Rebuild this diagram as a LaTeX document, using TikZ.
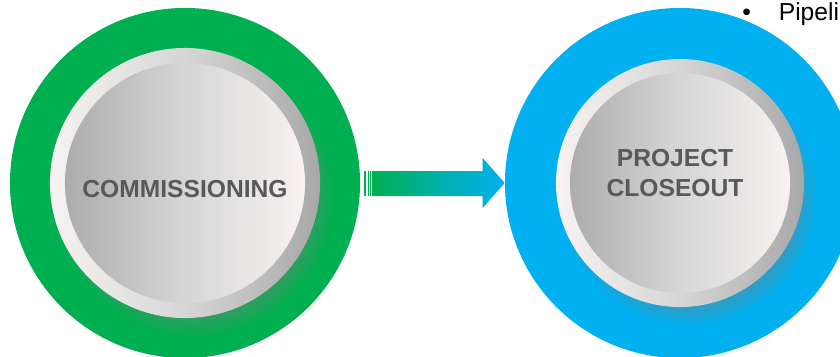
\documentclass[tikz,border=0pt]{standalone}
\usepackage{fontspec}
\setmainfont{Liberation Sans}
\usetikzlibrary{shadows,calc}
\definecolor{stagegreen}{RGB}{0,176,80}
\definecolor{stageblue}{RGB}{0,176,240}
\definecolor{capgray}{RGB}{89,89,89}
\definecolor{silverlight}{RGB}{248,242,242}
\definecolor{silvermid}{RGB}{214,214,214}
\definecolor{silverdark}{RGB}{168,168,168}
\tikzset{
  stageouter/.style={circle,inner sep=0pt,minimum size=8.75cm,
    circular drop shadow={shadow xshift=2pt,shadow yshift=-3pt,opacity=.12,shadow scale=1.0}},
  stagering/.style={circle,inner sep=0pt,left color=silverlight,right color=silverdark,middle color=silvermid,
    circular drop shadow={shadow xshift=6pt,shadow yshift=-9pt,opacity=.38,shadow scale=1.04}},
  stagedisk/.style={circle,inner sep=0pt,left color=silverdark!95!white,right color=silverlight,middle color=silvermid},
  stagetext/.style={inner sep=0pt,align=center,text=capgray,font=\bfseries\fontsize{17.5}{21.3}\selectfont},
  flowfill/.style={left color=stagegreen,right color=stageblue,middle color=stagegreen!45!stageblue}
}

\begin{document}
\begin{tikzpicture}[x=0.025cm,y=-0.025cm]
  \useasboundingbox (0,0) rectangle (840,356);
  \clip (0,0) rectangle (840,356);
  \node[stageouter,fill=stagegreen] (commOuter) at (185,183) {};
  \node[stageouter,fill=stageblue] (closeOuter) at (680,183) {};
  \node[stagering,minimum size=6.75cm] (commRing) at (commOuter) {};
  \node[stagering,minimum size=6.2cm] (closeRing) at (closeOuter) {};
  \node[stagedisk,minimum size=6cm] (commDisk) at (commOuter) {};
  \node[stagedisk,minimum size=5.5cm] (closeDisk) at (closeOuter) {};
  \node[stagetext] (commText) at ($(commDisk)+(0,6)$) {COMMISSIONING};
  \node[stagetext] (closeText) at ($(closeDisk)+(-5,-10)$) {PROJECT\\CLOSEOUT};
  % arrow between the two stages
  \coordinate (tail) at ($(commOuter.east)+(4,0)$);
  \coordinate (tip) at (closeOuter.west);
  \foreach \a/\b in {0/2,3.2/4.6,5.5/7}
    \fill[stagegreen] ($(tail)+(\a,-12)$) rectangle ($(tail)+(\b,13)$);
  \shade[flowfill] ($(tail)+(8,-12)$) -- ($(tip)+(-22,-12)$) -- ($(tip)+(-22,-25)$) -- (tip)
    -- ($(tip)+(-22,25)$) -- ($(tip)+(-22,13)$) -- ($(tail)+(8,13)$) -- cycle;
  \node[anchor=base west,inner sep=0pt,font=\fontsize{17.5}{21}\selectfont] (pipeline) at (742,20)
    {\makebox[26pt][l]{\textbullet}Pipeline};
\end{tikzpicture}
\end{document}
